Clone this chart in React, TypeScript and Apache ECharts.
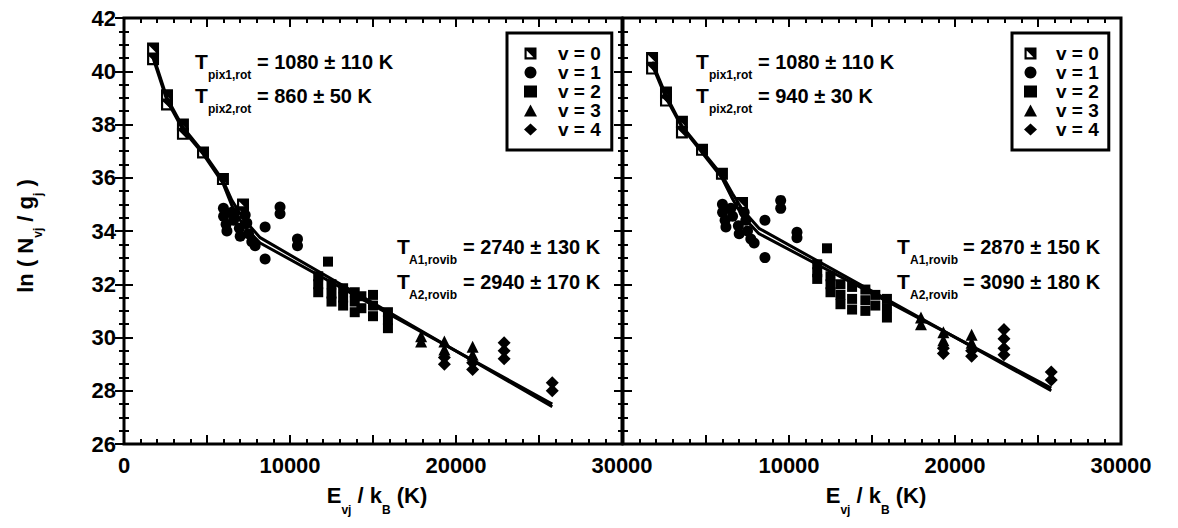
import React, { useEffect, useRef } from 'react';
import * as echarts from 'echarts';

// ---------- data ----------
const LEVELS = ['v = 0', 'v = 1', 'v = 2', 'v = 3', 'v = 4'];
const X_LABELS = [0, 10000, 20000, 30000];
const Y_LABELS = [26, 28, 30, 32, 34, 36, 38, 40, 42];

// left panel
const leftV0 = [[1750, 40.85], [1750, 40.45], [2590, 39.1], [2590, 38.75], [3550, 38.0], [3550, 37.65], [4760, 36.95], [5960, 35.95], [7170, 35.0], [7170, 34.7]];
const leftV1 = [[5990, 34.85], [6000, 34.55], [6150, 34.25], [6200, 34.0], [6500, 34.7], [6600, 34.4], [6950, 34.1], [7000, 33.8], [7300, 34.6], [7400, 34.3], [7500, 33.9], [7700, 33.6], [7900, 33.45], [8500, 34.15], [8500, 32.95], [9400, 34.9], [9400, 34.65], [10450, 33.7], [10450, 33.45]];
const leftV2 = [[12290, 32.85], [11700, 32.3], [11700, 32.0], [11700, 31.7], [12500, 32.0], [12500, 31.65], [12500, 31.35], [13200, 31.85], [13200, 31.5], [13200, 31.2], [13900, 31.7], [13900, 31.35], [13900, 30.95], [14300, 31.55], [14300, 31.1], [15000, 31.6], [15000, 31.2], [15000, 30.8], [15900, 30.95], [15900, 30.65], [15900, 30.35]];
const leftV3 = [[17900, 30.05], [17900, 29.85], [19300, 29.85], [19300, 29.55], [21000, 29.65], [21000, 29.35]];
const leftV4 = [[19300, 29.25], [19300, 29.0], [21000, 29.05], [21000, 28.8], [22900, 29.8], [22900, 29.5], [22900, 29.2], [25800, 28.3], [25800, 28.0]];
const leftFitA1 = [[1750, 40.6], [2590, 39.0], [3550, 37.9], [4760, 36.97], [5960, 35.9], [6500, 35.15], [7200, 34.45], [8200, 33.75], [25800, 27.4]];
const leftFitA2 = [[1750, 40.5], [2590, 38.9], [3550, 37.8], [4760, 36.9], [5960, 35.8], [6500, 34.95], [7200, 34.2], [8200, 33.55], [25800, 27.5]];

// right panel
const rightV0 = [[1750, 40.5], [1750, 40.1], [2590, 39.2], [2590, 38.9], [3550, 38.1], [3550, 37.7], [4760, 37.05], [5960, 36.15], [7170, 35.05]];
const rightV1 = [[5990, 35.0], [6000, 34.7], [6150, 34.4], [6200, 34.15], [6500, 34.85], [6600, 34.55], [6950, 34.2], [7000, 33.9], [7300, 34.7], [7400, 34.4], [7500, 34.0], [7700, 33.7], [7900, 33.55], [8550, 34.4], [8550, 33.0], [9500, 35.15], [9500, 34.85], [10480, 33.95], [10480, 33.75]];
const rightV2 = [[12290, 33.35], [11700, 32.75], [11700, 32.45], [11700, 32.2], [12500, 32.3], [12500, 32.0], [12500, 31.7], [13100, 32.0], [13100, 31.6], [13100, 31.25], [13800, 31.9], [13800, 31.45], [13800, 31.05], [14600, 31.8], [14600, 31.4], [14600, 31.0], [15200, 31.6], [15200, 31.2], [15900, 31.45], [15900, 31.1], [15900, 30.75]];
const rightV3 = [[17950, 30.75], [17950, 30.5], [19300, 30.2], [19300, 29.9], [21000, 30.1], [21000, 29.8]];
const rightV4 = [[19300, 29.6], [19300, 29.4], [21000, 29.5], [21000, 29.3], [22950, 30.3], [22950, 29.95], [22950, 29.6], [22950, 29.35], [25800, 28.7], [25800, 28.4]];
const rightFitA1 = [[1750, 40.35], [2590, 39.1], [3550, 37.95], [4760, 37.02], [5960, 36.1], [6600, 35.4], [7200, 34.8], [8190, 34.1], [25800, 28.0]];
const rightFitA2 = [[1750, 40.25], [2590, 39.0], [3550, 37.9], [4760, 36.95], [5960, 36.0], [6600, 35.2], [7200, 34.55], [8190, 33.9], [25800, 28.1]];

// annotation texts
const leftRot = [['pix1,rot', '= 1080 ± 110 K'], ['pix2,rot', '= 860 ± 50 K']];
const leftRovib = [['A1,rovib', '= 2740 ± 130 K'], ['A2,rovib', '= 2940 ± 170 K']];
const rightRot = [['pix1,rot', '= 1080 ± 110 K'], ['pix2,rot', '= 940 ± 30 K']];
const rightRovib = [['A1,rovib', '= 2870 ± 150 K'], ['A2,rovib', '= 3090 ± 180 K']];

// ---------- styling ----------
const FONT = '"Liberation Sans", Arial, Helvetica, sans-serif';
const HALF_SQUARE = 'path://M0 0L10 0L10 10L0 10ZM1.8 2.6L1.8 8.2L7.4 8.2Z';
const SYMBOLS = [HALF_SQUARE, 'circle', 'rect', 'triangle', 'diamond'];
const SIZES = [12, 11, 10, 12, 13];

let measureCtx: CanvasRenderingContext2D | null = null;
function measure(text: string, size: number) {
  if (!measureCtx) measureCtx = document.createElement('canvas').getContext('2d');
  measureCtx!.font = `bold ${size}px ${FONT}`;
  return measureCtx!.measureText(text).width;
}

function txt(text: string, x: number, y: number, size: number, extra: any = {}) {
  return {
    type: 'text', x, y, silent: true, ...extra,
    style: {
      text, fontSize: size, fontWeight: 'bold', fontFamily: FONT, fill: '#000',
      align: 'left', verticalAlign: 'middle', textAlign: 'left', textVerticalAlign: 'middle',
    },
  };
}

function chainParts(parts: { t: string; s: number; dy: number }[], x0: number, y0: number) {
  const out: any[] = [];
  let x = x0;
  parts.forEach((p) => {
    out.push(txt(p.t, x, y0 + p.dy, p.s));
    x += measure(p.t, p.s);
  });
  return { els: out, width: x - x0 };
}

function xTitle(cx: number, cy: number) {
  const parts = [
    { t: 'E', s: 22, dy: 0 }, { t: 'vj', s: 12, dy: 15 },
    { t: ' / k', s: 22, dy: 0 }, { t: 'B', s: 12, dy: 15 }, { t: ' (K)', s: 22, dy: 0 },
  ];
  const w = chainParts(parts, 0, 0).width;
  return chainParts(parts, cx - w / 2, cy).els;
}

function yTitle(cx: number, cy: number) {
  const parts = [
    { t: 'ln ( N', s: 22, dy: 0 }, { t: 'vj', s: 12, dy: 13 },
    { t: ' / g', s: 22, dy: 0 }, { t: 'j', s: 12, dy: 13 }, { t: ' )', s: 22, dy: 0 },
  ];
  const r = chainParts(parts, 0, 0);
  return { type: 'group', x: cx, y: cy + r.width / 2, rotation: Math.PI / 2, children: r.els };
}

function annot(rows: string[][], tx: number, subX: number, eqX: number, ys: number[]) {
  const els: any[] = [];
  rows.forEach((r, i) => {
    els.push(txt('T', tx, ys[i], 21));
    els.push(txt(r[0], subX, ys[i] + 14, 12));
    els.push(txt(r[1], eqX, ys[i] + 1, 20));
  });
  return els;
}

const G = [
  { left: 124, top: 18, width: 498, height: 426 },
  { left: 623, top: 18, width: 498, height: 426 },
];

function xAxis(grid: number, position: 'bottom' | 'top', labels: boolean, hideMin: boolean) {
  return {
    type: 'value', gridIndex: grid, position, min: 0, max: 30000, interval: 5000,
    axisLine: { show: false },
    axisTick: { show: true, inside: true, length: 9, lineStyle: { color: '#000', width: 2 } },
    minorTick: { show: true, splitNumber: 5, length: 5, lineStyle: { color: '#000', width: 2 } },
    splitLine: { show: false }, minorSplitLine: { show: false },
    axisLabel: {
      show: labels, showMinLabel: !hideMin, margin: 10, color: '#000', fontSize: 22, fontWeight: 'bold', fontFamily: FONT,
      formatter: (v: number) => (X_LABELS.indexOf(v) >= 0 ? String(v) : ''),
    },
  };
}

function yAxis(grid: number, position: 'left' | 'right', labels: boolean) {
  return {
    type: 'value', gridIndex: grid, position, min: 26, max: 42, interval: 2,
    axisLine: { show: false },
    axisTick: { show: true, inside: true, length: 9, lineStyle: { color: '#000', width: 2 } },
    minorTick: { show: true, splitNumber: 4, length: 5, lineStyle: { color: '#000', width: 2 } },
    splitLine: { show: false }, minorSplitLine: { show: false },
    axisLabel: {
      show: labels, margin: 8, color: '#000', fontSize: 22, fontWeight: 'bold', fontFamily: FONT,
      formatter: (v: number) => (Y_LABELS.indexOf(v) >= 0 ? String(v) : ''),
    },
  };
}

function panelSeries(grid: number, sets: number[][][], fits: number[][][]) {
  const xi = grid * 2;
  const yi = grid * 2;
  const s: any[] = sets.map((d, i) => ({
    type: 'scatter', name: LEVELS[i], xAxisIndex: xi, yAxisIndex: yi,
    symbol: SYMBOLS[i], symbolSize: SIZES[i], data: d,
    itemStyle: { color: '#000', opacity: 1 }, z: 2,
  }));
  fits.forEach((d, i) => {
    s.push({
      type: 'line', name: `fit${grid}${i}`, xAxisIndex: xi, yAxisIndex: yi, data: d,
      symbol: 'none', lineStyle: { color: '#000', width: 3 }, z: 3, silent: true,
    });
  });
  return s;
}

function legend(left: number, padLeft: number, textGap: number, padRight: number) {
  return {
    show: true, orient: 'vertical', left, top: 33, itemWidth: 13, itemHeight: 12, itemGap: 0,
    symbolKeepAspect: true,
    padding: [11, padRight, 11, padLeft], borderColor: '#000', borderWidth: 3, backgroundColor: '#fff',
    selectedMode: false, data: LEVELS,
    textStyle: { color: '#000', fontSize: 19, fontWeight: 'bold', fontFamily: FONT, lineHeight: 18.5, padding: [0, 0, 0, textGap] },
  };
}

export default function App() {
  const ref = useRef<HTMLDivElement>(null);
  useEffect(() => {
    document.body.style.margin = '0';
    const chart = echarts.init(ref.current!, null, { renderer: 'svg' });
    const graphic: any[] = [
      ...annot(leftRot, 195, 208, 257, [61, 95]),
      ...annot(leftRovib, 397, 409, 463, [246, 281]),
      ...annot(rightRot, 696, 709, 758, [61, 95]),
      ...annot(rightRovib, 897, 910, 963, [246, 281]),
      ...xTitle(377, 495),
      ...xTitle(876, 495),
      yTitle(25, 236),
    ];
    chart.setOption({
      animation: false,
      backgroundColor: '#fff',
      grid: G.map((g) => ({ ...g, show: true, borderColor: '#000', borderWidth: 3, backgroundColor: 'transparent', containLabel: false, outerBoundsMode: 'none' })),
      xAxis: [xAxis(0, 'bottom', true, false), xAxis(0, 'top', false, false), xAxis(1, 'bottom', true, true), xAxis(1, 'top', false, false)],
      yAxis: [yAxis(0, 'left', true), yAxis(0, 'right', false), yAxis(1, 'left', false), yAxis(1, 'right', false)],
      legend: [legend(507, 17, 16, 11), legend(1012, 12, 14, 10)],
      series: [
        ...panelSeries(0, [leftV0, leftV1, leftV2, leftV3, leftV4], [leftFitA1, leftFitA2]),
        ...panelSeries(1, [rightV0, rightV1, rightV2, rightV3, rightV4], [rightFitA1, rightFitA2]),
      ],
      graphic,
    });
    return () => chart.dispose();
  }, []);
  return <div ref={ref} style={{ position: 'fixed', left: 0, top: 0, width: 1178, height: 528, background: '#fff' }} />;
}
